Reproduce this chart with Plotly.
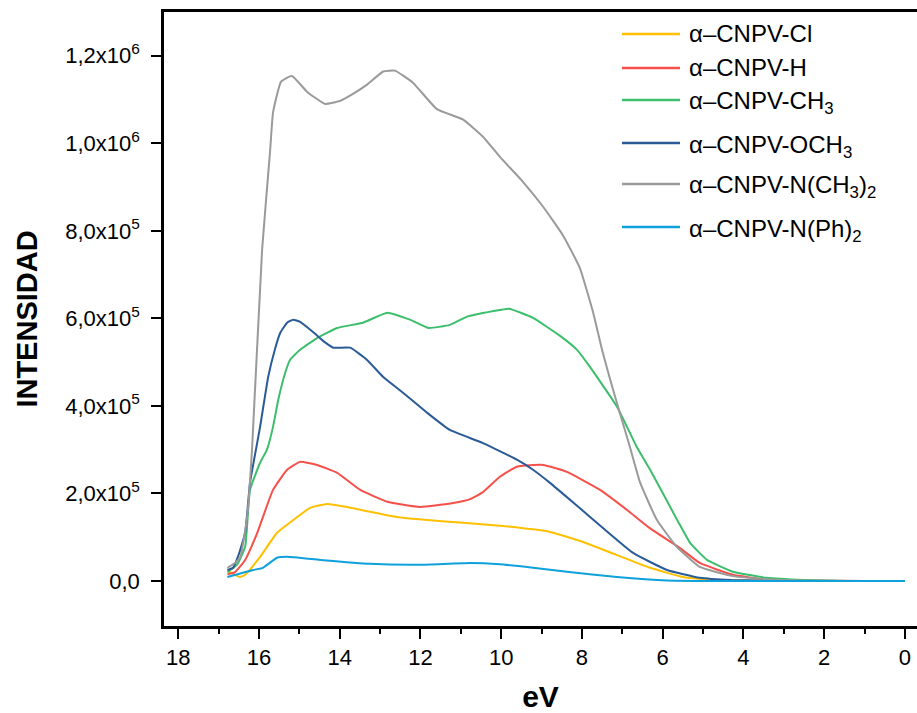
import plotly.graph_objects as go

SCALE = 1e5  # intensities below are listed in units of 1e5

# alpha-CNPV-Cl
cl_ev = [16.78, 16.72, 16.47, 16.34, 15.97, 15.55, 15.15, 14.73, 14.31, 13.82, 13.25, 12.58,
         11.83, 10.94, 10.03, 8.79, 7.97, 7.13, 6.31, 5.5, 4.8, 4.0, 3.0, 2.0, 1.0, 0.0]
cl_int = [0.22, 0.2, 0.09, 0.14, 0.55, 1.1, 1.39, 1.67, 1.76, 1.69, 1.58, 1.46,
          1.39, 1.33, 1.26, 1.12, 0.89, 0.59, 0.3, 0.09, 0.03, 0.01, 0.0, 0.0, 0.0, 0.0]

# alpha-CNPV-H
h_ev = [16.78, 16.59, 16.34, 16.04, 15.65, 15.3, 14.98, 14.56, 14.06, 13.49, 12.82, 12.01,
        11.19, 10.77, 10.45, 10.03, 9.61, 8.96, 8.37, 7.55, 6.88, 6.31, 5.57, 5.08, 4.26,
        3.5, 2.5, 1.0, 0.0]
h_int = [0.15, 0.2, 0.48, 1.1, 2.08, 2.54, 2.72, 2.65, 2.47, 2.08, 1.81, 1.69,
         1.78, 1.87, 2.03, 2.38, 2.61, 2.65, 2.49, 2.08, 1.62, 1.2, 0.75, 0.41, 0.14,
         0.04, 0.01, 0.0, 0.0]

# alpha-CNPV-CH3
ch3_ev = [16.78, 16.54, 16.34, 16.22, 15.97, 15.8, 15.65, 15.52, 15.35, 15.23, 14.98, 14.56,
          14.06, 13.42, 12.82, 12.26, 11.8, 11.27, 10.84, 10.03, 9.8, 9.21, 8.54, 8.12, 7.8,
          7.13, 6.64, 6.31, 5.62, 5.32, 4.9, 4.26, 3.42, 2.5, 1.5, 0.0]
ch3_int = [0.2, 0.37, 0.78, 2.08, 2.7, 3.0, 3.52, 4.14, 4.75, 5.05, 5.28, 5.55,
           5.78, 5.9, 6.13, 5.97, 5.78, 5.85, 6.04, 6.19, 6.22, 6.01, 5.6, 5.28, 4.89,
           3.98, 3.06, 2.54, 1.36, 0.87, 0.48, 0.21, 0.07, 0.02, 0.0, 0.0]

# alpha-CNPV-OCH3
och3_ev = [16.78, 16.64, 16.5, 16.34, 16.22, 15.97, 15.77, 15.6, 15.47, 15.3, 15.15, 14.98,
           14.66, 14.36, 14.16, 13.74, 13.32, 12.92, 12.43, 11.83, 11.27, 10.45, 9.61, 9.21,
           8.79, 7.97, 6.73, 5.89, 5.08, 4.3, 3.0, 2.0, 1.0, 0.0]
och3_int = [0.25, 0.3, 0.6, 1.1, 2.24, 3.52, 4.66, 5.3, 5.67, 5.9, 5.97, 5.92,
            5.69, 5.45, 5.33, 5.33, 5.05, 4.66, 4.3, 3.84, 3.45, 3.15, 2.77, 2.54,
            2.24, 1.6, 0.64, 0.25, 0.07, 0.02, 0.0, 0.0, 0.0, 0.0]

# alpha-CNPV-N(CH3)2
nme2_ev = [16.78, 16.59, 16.46, 16.29, 16.17, 15.92, 15.72, 15.65, 15.45, 15.18, 14.81, 14.36,
           13.99, 13.67, 13.32, 12.92, 12.63, 12.18, 11.59, 10.94, 10.45, 10.03, 9.46, 8.96,
           8.47, 8.05, 7.72, 7.5, 7.3, 7.06, 6.81, 6.56, 6.14, 5.65, 5.08, 4.26, 3.4, 2.5,
           1.0, 0.0]
nme2_int = [0.3, 0.41, 0.55, 1.46, 3.0, 7.57, 9.85, 10.7, 11.41, 11.54, 11.18, 10.9,
            10.97, 11.13, 11.34, 11.64, 11.66, 11.38, 10.78, 10.54, 10.15, 9.69, 9.12, 8.55,
            7.9, 7.15, 6.13, 5.28, 4.6, 3.84, 3.06, 2.25, 1.39, 0.78, 0.32, 0.11, 0.04, 0.01,
            0.0, 0.0]

# alpha-CNPV-N(Ph)2
nph2_ev = [16.78, 16.14, 15.9, 15.55, 15.3, 14.48, 13.25, 12.01, 10.77, 10.03, 9.21, 8.37,
           7.13, 5.89, 5.0, 4.0, 3.0, 2.0, 1.0, 0.0]
nph2_int = [0.09, 0.25, 0.3, 0.53, 0.55, 0.48, 0.39, 0.37, 0.41, 0.38, 0.3, 0.21,
            0.09, 0.01, 0.0, 0.0, 0.0, 0.0, 0.0, 0.0]

series_names = [
    "\u03b1\u2013CNPV-Cl",
    "\u03b1\u2013CNPV-H",
    "\u03b1\u2013CNPV-CH<sub>3</sub>",
    "\u03b1\u2013CNPV-OCH<sub>3</sub>",
    "\u03b1\u2013CNPV-N(CH<sub>3</sub>)<sub>2</sub>",
    "\u03b1\u2013CNPV-N(Ph)<sub>2</sub>",
]
series_x = [cl_ev, h_ev, ch3_ev, och3_ev, nme2_ev, nph2_ev]
series_y = [cl_int, h_int, ch3_int, och3_int, nme2_int, nph2_int]
series_colors = ["#FFC000", "#F5504A", "#3CBE6C", "#2B5B97", "#9A9A9A", "#0EA1DC"]

y_tick_vals = [0, 2e5, 4e5, 6e5, 8e5, 1.0e6, 1.2e6]
y_tick_text = ["0,0", "2,0x10<sup>5</sup>", "4,0x10<sup>5</sup>", "6,0x10<sup>5</sup>",
               "8,0x10<sup>5</sup>", "1,0x10<sup>6</sup>", "1,2x10<sup>6</sup>"]
x_tick_vals = [18, 16, 14, 12, 10, 8, 6, 4, 2, 0]

fig = go.Figure()
for name, xs, ys, col in zip(series_names, series_x, series_y, series_colors):
    fig.add_trace(go.Scatter(
        x=xs, y=[v * SCALE for v in ys], name=name, mode="lines", showlegend=False,
        line=dict(color=col, width=2, shape="spline", smoothing=0.4),
    ))

# Legend drawn in paper coordinates: a short coloured line plus its label per series
legend_line_x0, legend_line_x1, legend_text_x = 0.6082, 0.6853, 0.6946
legend_rows_y = [0.9642, 0.9088, 0.8567, 0.7866, 0.7199, 0.6498]
legend_text_shift = [0, 0, -3, -3, -3, -3]
for name, col, ly, sh in zip(series_names, series_colors, legend_rows_y, legend_text_shift):
    fig.add_shape(type="line", xref="paper", yref="paper",
                  x0=legend_line_x0, x1=legend_line_x1, y0=ly, y1=ly,
                  line=dict(color=col, width=2.5))
    fig.add_annotation(xref="paper", yref="paper", x=legend_text_x, y=ly,
                       xanchor="left", yanchor="middle", yshift=sh, text=name,
                       showarrow=False, font=dict(size=24))

font_family = "Liberation Sans, Arial, sans-serif"
fig.update_layout(
    width=917, height=713,
    margin=dict(l=164, r=0, t=12, b=87),
    paper_bgcolor="white", plot_bgcolor="white",
    font=dict(family=font_family, color="black", size=22),
    showlegend=False,
    xaxis=dict(
        range=[18.35, -0.3], tickmode="array", tickvals=x_tick_vals,
        ticks="outside", ticklen=10, tickwidth=2, tickcolor="black",
        minor=dict(dtick=1, ticks="outside", ticklen=5, tickwidth=2, tickcolor="black"),
        showline=True, linecolor="black", linewidth=2.5, mirror=True,
        showgrid=False, zeroline=False, automargin=False,
        tickfont=dict(size=22),
        title=dict(text="<b>eV</b>", font=dict(size=30), standoff=24),
    ),
    yaxis=dict(
        range=[-1.03e5, 1.30e6], tickmode="array", tickvals=y_tick_vals, ticktext=y_tick_text,
        ticks="outside", ticklen=10, tickwidth=2, tickcolor="black",
        showline=True, linecolor="black", linewidth=2.5,
        showgrid=False, zeroline=False, automargin=False,
        tickfont=dict(size=22), ticklabelstandoff=7,
        title=dict(text="<b>INTENSIDAD</b>", font=dict(size=29), standoff=20),
    ),
)

fig.write_html("out.html")
